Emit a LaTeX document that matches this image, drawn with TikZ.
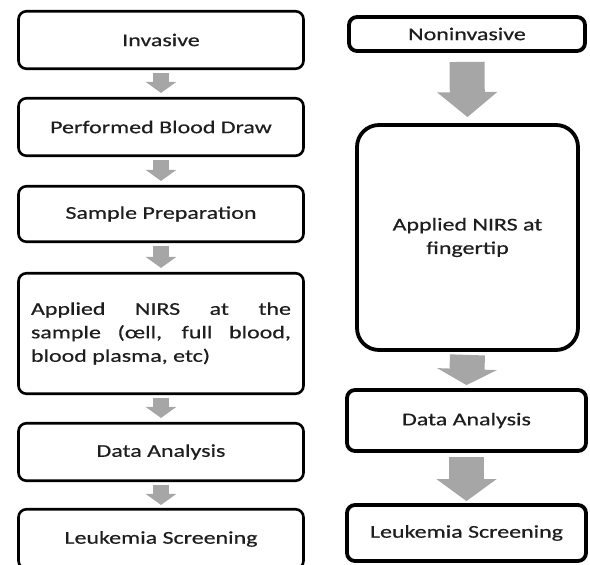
\documentclass[tikz,border=0pt]{standalone}
\usepackage{fontspec}
\setmainfont{Carlito}[FakeStretch=1.33,FakeBold=0.5]
\usetikzlibrary{arrows.meta,calc}
\definecolor{arrowgray}{HTML}{A6A6A6}
\definecolor{txt}{HTML}{1E1E1E}
\tikzset{
  lbox/.style={draw=black, line width=2.6pt, rounded corners=8pt, fill=white, inner sep=0pt,
    minimum width=285pt, text=txt, font=\fontsize{18}{23.5}\selectfont, align=center},
  rbox/.style={draw=black, line width=3.8pt, rounded corners=8pt, fill=white, inner sep=0pt,
    text=txt, font=\fontsize{18}{23.5}\selectfont, align=center},
  sarrow/.style={draw=arrowgray, line width=16pt, -{Triangle[length=11pt,width=30pt]}},
  barrow/.style={draw=arrowgray, line width=35pt, -{Triangle[length=#1,width=59pt]}},
}
\begin{document}
\begin{tikzpicture}[x=1pt,y=-1pt]
\useasboundingbox (0,0) rectangle (590,565);
\clip (0,0) rectangle (590,565);
% left column
\node[lbox, minimum height=57.5pt] (inv) at (161,40) {Invasive};
\node[lbox, minimum height=57.5pt] (pbd) at (161,127) {Performed Blood Draw};
\node[lbox, minimum height=55.5pt] (sp) at (161,214) {Sample Preparation};
\node[lbox, minimum height=120.5pt, text width=260pt, align=justify] (nirs) at (161,333.5)
  {Applied NIRS at the\linebreak sample (œll, full blood,\linebreak blood plasma, etc)};
\node[lbox, minimum height=57.5pt] (da) at (161,452) {Data Analysis};
\node[lbox, minimum height=59.5pt] (ls) at (161,539) {Leukemia Screening};
% right column
\node[rbox, minimum width=236pt, minimum height=34pt] (non) at (467,34) {Noninvasive};
\node[rbox, rounded corners=22pt, minimum width=221pt, minimum height=225pt] (fin) at (467.5,237.5) {Applied NIRS at\\fingertip};
\node[rbox, minimum width=239pt, minimum height=61pt] (da2) at (466.5,420.5) {Data Analysis};
\node[rbox, minimum width=239pt, minimum height=56pt] (ls2) at (466.5,533) {Leukemia Screening};
% left arrows
\draw[sarrow] ($(inv.south)+(0,3)$) -- ($(pbd.north)+(0,-4)$);
\draw[sarrow] ($(pbd.south)+(0,3)$) -- ($(sp.north)+(0,-4)$);
\draw[sarrow] ($(sp.south)+(0,3)$) -- ($(nirs.north)+(0,-4)$);
\draw[sarrow] ($(nirs.south)+(0,3)$) -- ($(da.north)+(0,-4)$);
\draw[sarrow] ($(da.south)+(0,3)$) -- ($(ls.north)+(0,-3)$);
% right arrows
\draw[barrow=25pt] ($(non.south)+(0,9)$) -- ($(fin.north)+(0,-6)$);
\draw[barrow=16pt] ($(fin.south)+(0,3)$) -- ($(da2.north)+(0,-3)$);
\draw[barrow=22pt] ($(da2.south)+(0,4)$) -- ($(ls2.north)+(0,-2)$);
\end{tikzpicture}
\end{document}
